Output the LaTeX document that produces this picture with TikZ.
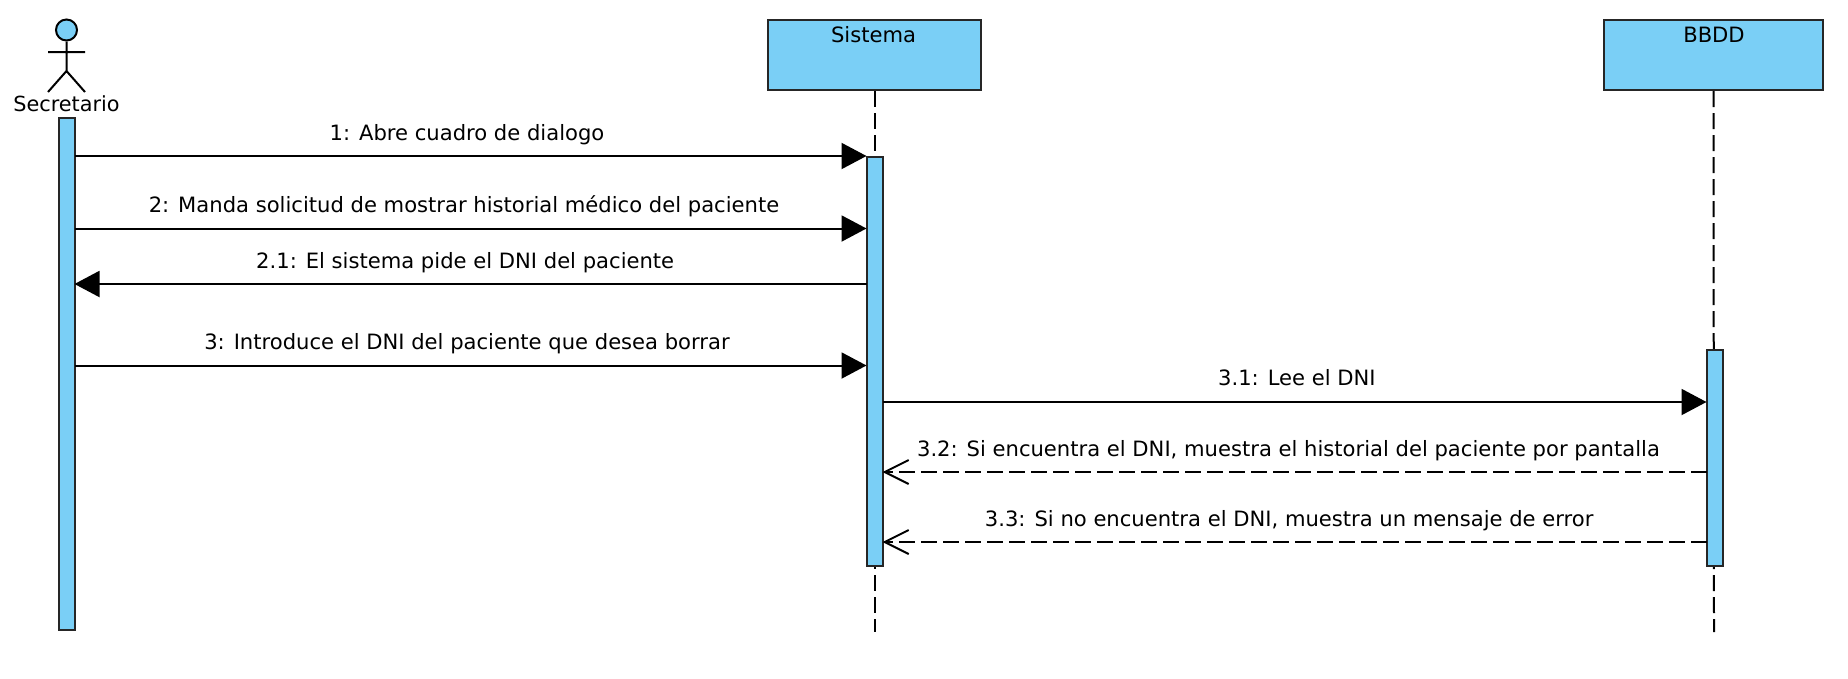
\documentclass[tikz,border=0pt]{standalone}
\usepackage{fontspec}
\setmainfont{DejaVu Sans}
\usetikzlibrary{arrows.meta}
\definecolor{lifeblue}{HTML}{7ACFF6}
\tikzset{
  boxstyle/.style={draw=black!85, line width=2pt, fill=lifeblue, inner sep=0pt, minimum height=70pt},
  barstyle/.style={draw=black!85, line width=2pt, fill=lifeblue, inner sep=0pt, outer sep=0pt, minimum width=16pt},
  txtstyle/.style={font=\fontsize{21.1}{24}\selectfont, inner sep=0pt, anchor=base},
  lifeline/.style={line width=2pt, dash pattern=on 16pt off 6pt},
  callmsg/.style={line width=2pt, -{Triangle[length=25pt,width=26pt]}},
  backmsg/.style={line width=2pt, dash pattern=on 16pt off 6pt, -{Straight Barb[length=24pt,width=24pt,line width=2pt]}}
}
\begin{document}
\begin{tikzpicture}[x=1pt,y=-1pt]
      \useasboundingbox (0,0) rectangle (1848,678);
      %Actor
      \node[draw=black, line width=2pt, fill=lifeblue, circle, inner sep=0pt, minimum size=21pt] (head) at (66.5,30) {};
      \coordinate (hip) at (66.5,71);
      \coordinate (armL) at (48,52);
      \coordinate (armR) at (85,52);
      \coordinate (legL) at (48,92);
      \coordinate (legR) at (85,92);
      \draw[line width=2pt] (head) -- (hip) (armL) -- (armR) (legL) -- (hip) -- (legR);
      \node[txtstyle, font=\fontsize{20.8}{24}\selectfont] (secretario) at (66.5,111.5) {Secretario};
      %Boxes
      \node[boxstyle, minimum width=213pt] (sistema) at (874.5,55) {};
      \node[boxstyle, minimum width=219pt] (bbdd) at (1713.5,55) {};
      \node[txtstyle] (sistemaTxt) at (873.5,42) {Sistema};
      \node[txtstyle] (bbddTxt) at (1714,42) {BBDD};
      %Lifelines
      \coordinate (sistemaEnd) at (874.5,632);
      \coordinate (bbddEnd) at (1714,632);
      \draw[lifeline] (sistema.south) -- (sistemaEnd);
      \draw[lifeline] (bbdd.south) -- (bbddEnd);
      %Activation bars
      \node[barstyle, minimum height=512pt] (secBar) at (66.5,374) {};
      \node[barstyle, minimum height=409pt] (sisBar) at (874.5,361) {};
      \node[barstyle, minimum height=216pt] (bdBar) at (1714.5,458) {};
      %Messages to the system
      \foreach \y/\dx/\nm/\txt in {156/-3.5/m1/{1: Abre cuadro de dialogo},
                               228.5/-6.5/m2/{2: Manda solicitud de mostrar historial médico del paciente},
                               365.5/-3.5/m3/{3: Introduce el DNI del paciente que desea borrar}}
        \draw[callmsg] (secBar.east |- 0,\y) -- (sisBar.west |- 0,\y)
          node[txtstyle, midway, xshift=\dx pt, yshift=16pt] (\nm) {\txt};
      \draw[callmsg] (sisBar.west |- 0,284) -- (secBar.east |- 0,284)
        node[txtstyle, midway, xshift=-5.3pt, yshift=16pt] (m21) {2.1: El sistema pide el DNI del paciente};
      %Messages to the database
      \draw[callmsg] (sisBar.east |- 0,402) -- (bdBar.west |- 0,402)
        node[txtstyle, midway, xshift=2.4pt, yshift=16.5pt] (m31) {3.1: Lee el DNI};
      \foreach \y/\dx/\nm/\txt in {472/-6/m32/{3.2: Si encuentra el DNI, muestra el historial del paciente por pantalla},
                               542/-5.3/m33/{3.3: Si no encuentra el DNI, muestra un mensaje de error}}
        \draw[backmsg] (bdBar.west |- 0,\y) -- (sisBar.east |- 0,\y)
          node[txtstyle, midway, xshift=\dx pt, yshift=16pt] (\nm) {\txt};
\end{tikzpicture}
\end{document}
